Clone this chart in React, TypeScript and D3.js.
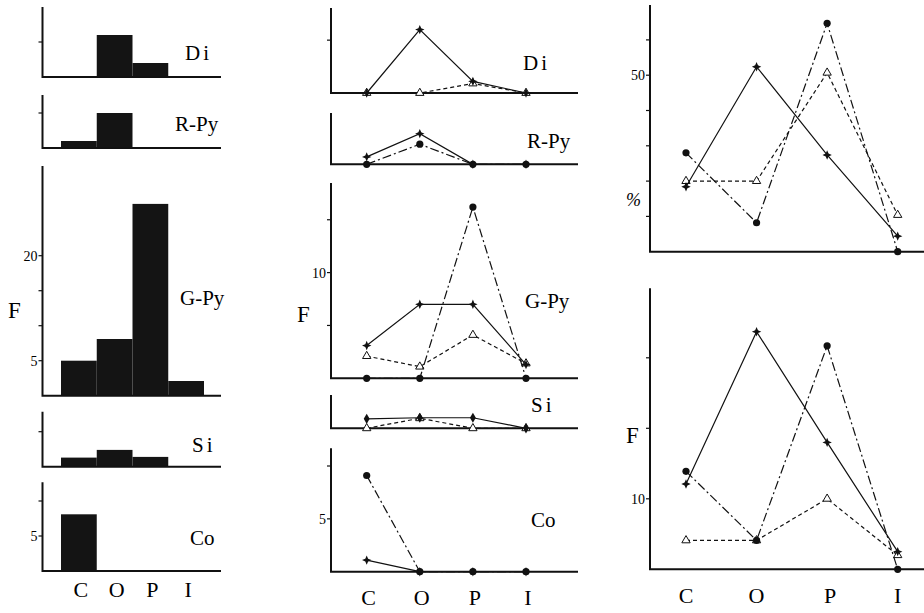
import React from 'react';
import * as d3 from 'd3';

const categories = ['C', 'O', 'P', 'I'];

// left column: histograms (F)
const histDi = [0, 6, 2, 0];
const histRPy = [1, 5, 0, 0];
const histGPy = [5, 8.1, 27.4, 2.1];
const histSi = [1.3, 2.4, 1.4, 0];
const histCo = [8.1, 0, 0, 0];

// middle column: curves (F)
const diSolid = [0, 6, 1.1, 0];
const diDashed = [0, 0, 0.9, 0];
const rpySolid = [0.7, 2.9, 0, 0];
const rpyDashDot = [0, 1.9, 0, 0];
const gpySolid = [3.1, 7, 7, 1.3];
const gpyDashed = [2.1, 1.1, 4.1, 1.4];
const gpyDashDot = [0, 0, 16.2, 0];
const siSolid = [0.9, 1, 1, 0];
const siDashed = [0, 0.95, 0, 0];
const coSolid = [1.1, 0, 0, 0];
const coDashDot = [9.1, 0, 0, 0];

// right column: totals (% and F)
const pctSolid = [18.4, 52.4, 27.4, 4.4];
const pctDashed = [20, 20, 50.7, 10.4];
const pctDashDot = [28, 8.2, 64.7, 0];
const fSolid = [12.1, 33.7, 18, 2.5];
const fDashed = [4.1, 4.1, 10, 2];
const fDashDot = [13.9, 4.1, 31.7, 0];

const FONT = '"Liberation Serif", "DejaVu Serif", serif';

// 4-point star marker
const sparkle = {
  draw(ctx: any, size: number) {
    const r = Math.sqrt(size);
    const s = r * 0.3;
    ctx.moveTo(0, -r);
    ctx.lineTo(s, -s);
    ctx.lineTo(r, 0);
    ctx.lineTo(s, s);
    ctx.lineTo(0, r);
    ctx.lineTo(-s, s);
    ctx.lineTo(-r, 0);
    ctx.lineTo(-s, -s);
    ctx.closePath();
  },
};

const dashes: any = { solid: null, dashed: '4,3', dashdot: '9,3,2,3' };

function marker(kind: string, x: number, y: number, key: string) {
  if (kind === 'star') {
    return <path key={key} d={d3.symbol(sparkle as any, 22)() as string} transform={`translate(${x},${y})`} fill="#111" />;
  }
  if (kind === 'tri') {
    return <path key={key} d={d3.symbol(d3.symbolTriangle, 30)() as string} transform={`translate(${x},${y})`} fill="#fff" stroke="#111" strokeWidth={1} />;
  }
  if (kind === 'diamond') {
    return <path key={key} d={d3.symbol(d3.symbolDiamond, 30)() as string} transform={`translate(${x},${y})`} fill="#111" />;
  }
  return <circle key={key} cx={x} cy={y} r={3.6} fill="#111" />;
}

function Axis({ x, top, base, end, y, ticks, labels }: any) {
  return (
    <g>
      <path d={`M${x},${top}V${base}H${end}`} fill="none" stroke="#111" strokeWidth={2} />
      {ticks.map((t: number) => (
        <line key={t} x1={x - 4} x2={x} y1={y(t)} y2={y(t)} stroke="#111" strokeWidth={1.2} />
      ))}
      {labels.map((t: number) => (
        <text key={'l' + t} x={x - 5} y={y(t)} dy="0.35em" textAnchor="end" fontSize={14} fontFamily={FONT}>
          {t}
        </text>
      ))}
    </g>
  );
}

function Title({ text, x, y, size = 21 }: any) {
  return (
    <text x={x} y={y} fontSize={size} fontFamily={FONT} letterSpacing={text === 'Di' || text === 'Si' ? 3 : 0}>
      {text}
    </text>
  );
}

const histPanels = [
  { name: 'Di', values: histDi, top: 7, base: 77, ticks: [5], labels: [], tx: 185, ty: 60 },
  { name: 'R-Py', values: histRPy, top: 95, base: 148, ticks: [5], labels: [], tx: 175, ty: 131 },
  { name: 'G-Py', values: histGPy, top: 166, base: 395.7, ticks: [5, 10, 15, 20], labels: [5, 20], tx: 180, ty: 305 },
  { name: 'Si', values: histSi, top: 411.7, base: 466.7, ticks: [5], labels: [], tx: 192, ty: 452 },
  { name: 'Co', values: histCo, top: 482.3, base: 571, ticks: [5, 10], labels: [5], tx: 190, ty: 545 },
];

const midPanels = [
  { name: 'Di', top: 8, base: 93, ticks: [5], labels: [], tx: 523, ty: 70,
    series: [{ v: diDashed, s: 'dashed', m: 'tri' }, { v: diSolid, s: 'solid', m: 'star' }] },
  { name: 'R-Py', top: 113, base: 164.3, ticks: [], labels: [], tx: 527, ty: 148,
    series: [{ v: rpyDashDot, s: 'dashdot', m: 'dot' }, { v: rpySolid, s: 'solid', m: 'star' }] },
  { name: 'G-Py', top: 183, base: 378.3, ticks: [5, 10, 15], labels: [10], tx: 525, ty: 308,
    series: [{ v: gpyDashed, s: 'dashed', m: 'tri' }, { v: gpyDashDot, s: 'dashdot', m: 'dot' }, { v: gpySolid, s: 'solid', m: 'star' }] },
  { name: 'Si', top: 395, base: 428.3, ticks: [], labels: [], tx: 531, ty: 412,
    series: [{ v: siDashed, s: 'dashed', m: 'tri' }, { v: siSolid, s: 'solid', m: 'diamond' }] },
  { name: 'Co', top: 448.3, base: 571.7, ticks: [5, 10], labels: [5], tx: 531, ty: 527,
    series: [{ v: coDashDot, s: 'dashdot', m: 'dot' }, { v: coSolid, s: 'solid', m: 'star' }] },
];

const rightPanels = [
  { top: 5, base: 251.7, pxu: 3.53, ticks: [10, 20, 30, 40, 50, 60], labels: [50],
    series: [{ v: pctDashed, s: 'dashed', m: 'tri' }, { v: pctDashDot, s: 'dashdot', m: 'dot' }, { v: pctSolid, s: 'solid', m: 'star' }] },
  { top: 288.3, base: 569.3, pxu: 7.05, ticks: [10, 20, 30], labels: [10],
    series: [{ v: fDashed, s: 'dashed', m: 'tri' }, { v: fDashDot, s: 'dashdot', m: 'dot' }, { v: fSolid, s: 'solid', m: 'star' }] },
];

function Curves({ series, x, y, id }: any) {
  const line = d3.line<number>().x((_, i) => x(categories[i])).y((d) => y(d));
  return (
    <g>
      {series.map((sr: any, k: number) => (
        <g key={id + k}>
          <path d={line(sr.v) as string} fill="none" stroke="#111" strokeWidth={1.2} strokeDasharray={dashes[sr.s]} />
          {sr.v.map((d: number, i: number) => marker(sr.m, x(categories[i]), y(d), id + k + '-' + i))}
        </g>
      ))}
    </g>
  );
}

export default function App() {
  const xBand = d3.scaleBand().domain(categories).range([61, 204]).padding(0);
  const xMid = d3.scalePoint().domain(categories).range([366.7, 526]);
  const xRight = d3.scalePoint().domain(categories).range([686, 897.7]);

  return (
    <svg width={924} height={613} style={{ position: 'absolute', left: 0, top: 0, background: '#fff' }}>
      {/* left column */}
      {histPanels.map((p) => {
        const y = d3.scaleLinear().domain([0, (p.base - p.top) / 7]).range([p.base, p.top]);
        return (
          <g key={'h' + p.name}>
            {p.values.map((v, i) =>
              v > 0 ? (
                <rect key={i} x={xBand(categories[i])} y={y(v)} width={xBand.bandwidth()} height={p.base - y(v)} fill="#141414" />
              ) : null
            )}
            <Axis x={42.5} top={p.top} base={p.base} end={221} y={y} ticks={p.ticks} labels={p.labels} />
            <Title text={p.name} x={p.tx} y={p.ty} />
          </g>
        );
      })}
      <text x={8} y={318} fontSize={23} fontFamily={FONT}>F</text>
      {categories.map((c) => (
        <text key={'lx' + c} x={(xBand(c) as number) + xBand.bandwidth() / 2 + 2} y={597} textAnchor="middle" fontSize={22} fontFamily={FONT}>
          {c}
        </text>
      ))}

      {/* middle column */}
      {midPanels.map((p) => {
        const y = d3.scaleLinear().domain([0, (p.base - p.top) / 10.57]).range([p.base, p.top]);
        return (
          <g key={'m' + p.name}>
            <Axis x={331} top={p.top} base={p.base} end={578} y={y} ticks={p.ticks} labels={p.labels} />
            <Curves series={p.series} x={xMid} y={y} id={'m' + p.name} />
            <Title text={p.name} x={p.tx} y={p.ty} />
          </g>
        );
      })}
      <text x={297} y={322} fontSize={23} fontFamily={FONT}>F</text>
      {categories.map((c) => (
        <text key={'mx' + c} x={(xMid(c) as number) + 2} y={605} textAnchor="middle" fontSize={22} fontFamily={FONT}>
          {c}
        </text>
      ))}

      {/* right column */}
      {rightPanels.map((p, k) => {
        const y = d3.scaleLinear().domain([0, (p.base - p.top) / p.pxu]).range([p.base, p.top]);
        return (
          <g key={'r' + k}>
            <Axis x={650} top={p.top} base={p.base} end={924} y={y} ticks={p.ticks} labels={p.labels} />
            <Curves series={p.series} x={xRight} y={y} id={'r' + k} />
          </g>
        );
      })}
      <text x={626} y={206} fontSize={18} fontStyle="italic" fontFamily={FONT}>%</text>
      <text x={626} y={443} fontSize={23} fontFamily={FONT}>F</text>
      {categories.map((c) => (
        <text key={'rx' + c} x={(xRight(c) as number) + (c === 'P' ? 3 : 0)} y={603} textAnchor="middle" fontSize={22} fontFamily={FONT}>
          {c}
        </text>
      ))}
    </svg>
  );
}
